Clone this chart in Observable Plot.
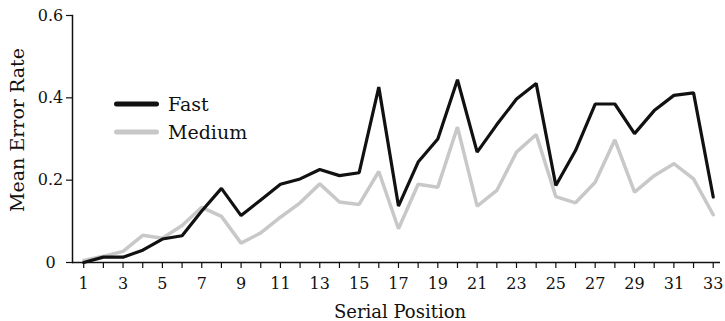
<!DOCTYPE html>
<html>
<head>
<meta charset="utf-8">
<script src="https://cdn.jsdelivr.net/npm/d3@7"></script>
<script src="https://cdn.jsdelivr.net/npm/@observablehq/plot@0.6"></script>
<style>
  html, body { margin: 0; padding: 0; background: #fff; }
  #wrap { position: relative; width: 725px; height: 321px; font-family: "DejaVu Serif", serif; }
  #overlay { position: absolute; left: 0; top: 0; pointer-events: none; }
</style>
</head>
<body>
<div id="wrap"></div>
<script>
const positions = d3.range(1, 34);
const seriesNames = ["Fast", "Medium"];
const fastValues = [0.0, 0.013, 0.013, 0.03, 0.057, 0.065, 0.125, 0.18, 0.114, 0.152, 0.19, 0.203, 0.226,
  0.211, 0.218, 0.426, 0.137, 0.244, 0.30, 0.444, 0.268, 0.335, 0.397, 0.435, 0.187, 0.272, 0.385,
  0.385, 0.313, 0.369, 0.406, 0.412, 0.159];
const mediumValues = [0.005, 0.015, 0.027, 0.066, 0.059, 0.09, 0.134, 0.112, 0.047, 0.072, 0.11, 0.145, 0.191,
  0.147, 0.141, 0.221, 0.082, 0.19, 0.183, 0.329, 0.137, 0.175, 0.268, 0.311, 0.16, 0.145, 0.195,
  0.298, 0.171, 0.211, 0.24, 0.203, 0.116];
const yTicks = [0, 0.2, 0.4, 0.6];
const xTitle = "Serial Position";
const yTitle = "Mean Error Rate";
const colors = {Fast: "#111111", Medium: "#c8c8c8"};

const data = [];
positions.forEach((p, i) => {
  data.push({pos: p, value: fastValues[i], series: "Fast"});
  data.push({pos: p, value: mediumValues[i], series: "Medium"});
});

const chart = Plot.plot({
  width: 725,
  height: 321,
  marginLeft: 72,
  marginRight: 5,
  marginTop: 15,
  marginBottom: 59,
  style: {fontFamily: "DejaVu Serif, serif", fontSize: "16px", color: "#111", background: "#fff"},
  x: {domain: [0.43, 33.37], label: null},
  y: {domain: [0, 0.6], label: null},
  marks: [
    Plot.frame({anchor: "left", stroke: "#111", strokeWidth: 1.5}),
    Plot.ruleY([0], {stroke: "#111", strokeWidth: 1.5}),
    Plot.axisX({ticks: positions, tickSize: 6, tickPadding: 9, tickFormat: d => d % 2 === 1 ? String(d) : "", stroke: "#111", strokeWidth: 1.2}),
    Plot.axisY({ticks: yTicks, tickSize: 6, tickPadding: 16, textAnchor: "middle", tickFormat: d => d === 0 ? "0" : d3.format(".1f")(d), stroke: "#111", strokeWidth: 1.2}),
    Plot.line(data.filter(d => d.series === "Medium"), {x: "pos", y: "value", stroke: colors.Medium, strokeWidth: 3.5, strokeLinejoin: "miter"}),
    Plot.line(data.filter(d => d.series === "Fast"), {x: "pos", y: "value", stroke: colors.Fast, strokeWidth: 3.2, strokeLinejoin: "miter"})
  ]
});

const wrap = document.getElementById("wrap");
wrap.appendChild(chart);

const ns = "http://www.w3.org/2000/svg";
const overlay = document.createElementNS(ns, "svg");
overlay.setAttribute("id", "overlay");
overlay.setAttribute("width", 725);
overlay.setAttribute("height", 321);
overlay.setAttribute("font-family", "DejaVu Serif, serif");
overlay.setAttribute("fill", "#111");

function addText(txt, attrs) {
  const t = document.createElementNS(ns, "text");
  for (const k in attrs) t.setAttribute(k, attrs[k]);
  t.textContent = txt;
  overlay.appendChild(t);
}
addText(yTitle, {transform: "translate(24,130) rotate(-90)", "text-anchor": "middle", "font-size": 19});
addText(xTitle, {x: 400, y: 317.5, "text-anchor": "middle", "font-size": 18});

seriesNames.forEach((name, i) => {
  const cy = 104 + i * 28;
  const l = document.createElementNS(ns, "line");
  l.setAttribute("x1", 116.5); l.setAttribute("x2", 156.5);
  l.setAttribute("y1", cy); l.setAttribute("y2", cy);
  l.setAttribute("stroke", colors[name]);
  l.setAttribute("stroke-width", 5);
  l.setAttribute("stroke-linecap", "round");
  overlay.appendChild(l);
  addText(name, {x: 168, y: cy + 7, "font-size": 19});
});
wrap.appendChild(overlay);
</script>
</body>
</html>
